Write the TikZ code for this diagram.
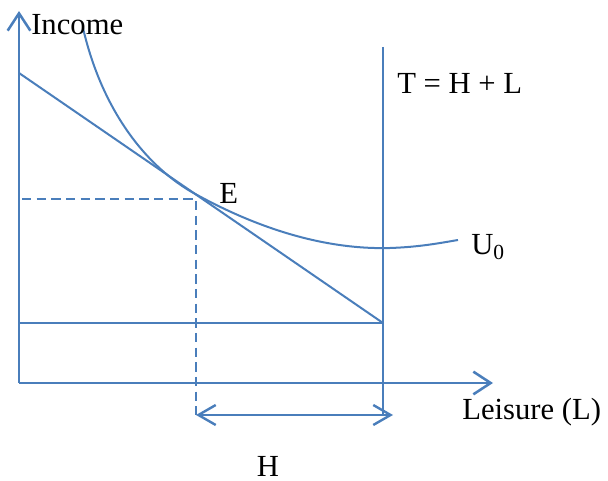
\documentclass[tikz,border=0pt]{standalone}
\usepackage{fontspec}
\setmainfont{Liberation Serif}
\usetikzlibrary{arrows.meta}
\definecolor{ln}{HTML}{4A7EBB}
\begin{document}
\begin{tikzpicture}[x=0.75pt,y=-0.75pt,
  ax/.style={draw=ln,line width=1.9pt},
  ln/.style={draw=ln,line width=1.5pt},
  tip/.style={-{Straight Barb[length=13pt,width=17pt,line width=1.9pt]}},
  lbl/.style={font=\fontsize{23}{27}\selectfont,inner sep=0pt}]
\useasboundingbox (0,0) rectangle (608,481);
\coordinate (O) at (19,383);
\coordinate (Ytop) at (19,11);
\coordinate (Xend) at (493,383);
\coordinate (Ttop) at (383,47);
\coordinate (Tbot) at (383,415);
\coordinate (B1) at (19,73);
\coordinate (B2) at (383,323);
\coordinate (H0) at (19,323);
\coordinate (Ed) at (196,199);
\coordinate (Dl) at (22,199);
\coordinate (Db) at (196,415);
\coordinate (Ar) at (393,415);
\draw[ax,tip] (O) -- (Ytop);
\draw[ax,tip] (O) -- (Xend);
\draw[ln] (Ttop) -- (Tbot);
\draw[ln] (B1) -- (B2);
\draw[ln] (H0) -- (B2);
\draw[ln,dashed,dash pattern=on 7pt off 4pt] (Dl) -- (Ed) -- (Db);
\draw[ax,{Straight Barb[length=13pt,width=15pt,line width=1.8pt]}-{Straight Barb[length=13pt,width=15pt,line width=1.8pt]}] (Db) -- (Ar);
\draw[ln] (83,28) .. controls (102,110) and (145,164) .. (190,191)
  .. controls (250,225) and (320,250) .. (390,248)
  .. controls (420,247) and (440,243) .. (458,240);
\node[lbl,anchor=west] (inc) at (31,25) {Income};
\node[lbl,anchor=west] (teq) at (397,83) {T = H + L};
\node[lbl,anchor=west] (E) at (219,193) {E};
\node[lbl,anchor=west] (U) at (471,247) {U\textsubscript{0}};
\node[lbl,anchor=west] (lei) at (462,412) {Leisure (L)};
\node[lbl] (H) at (268,466) {H};
\end{tikzpicture}
\end{document}
